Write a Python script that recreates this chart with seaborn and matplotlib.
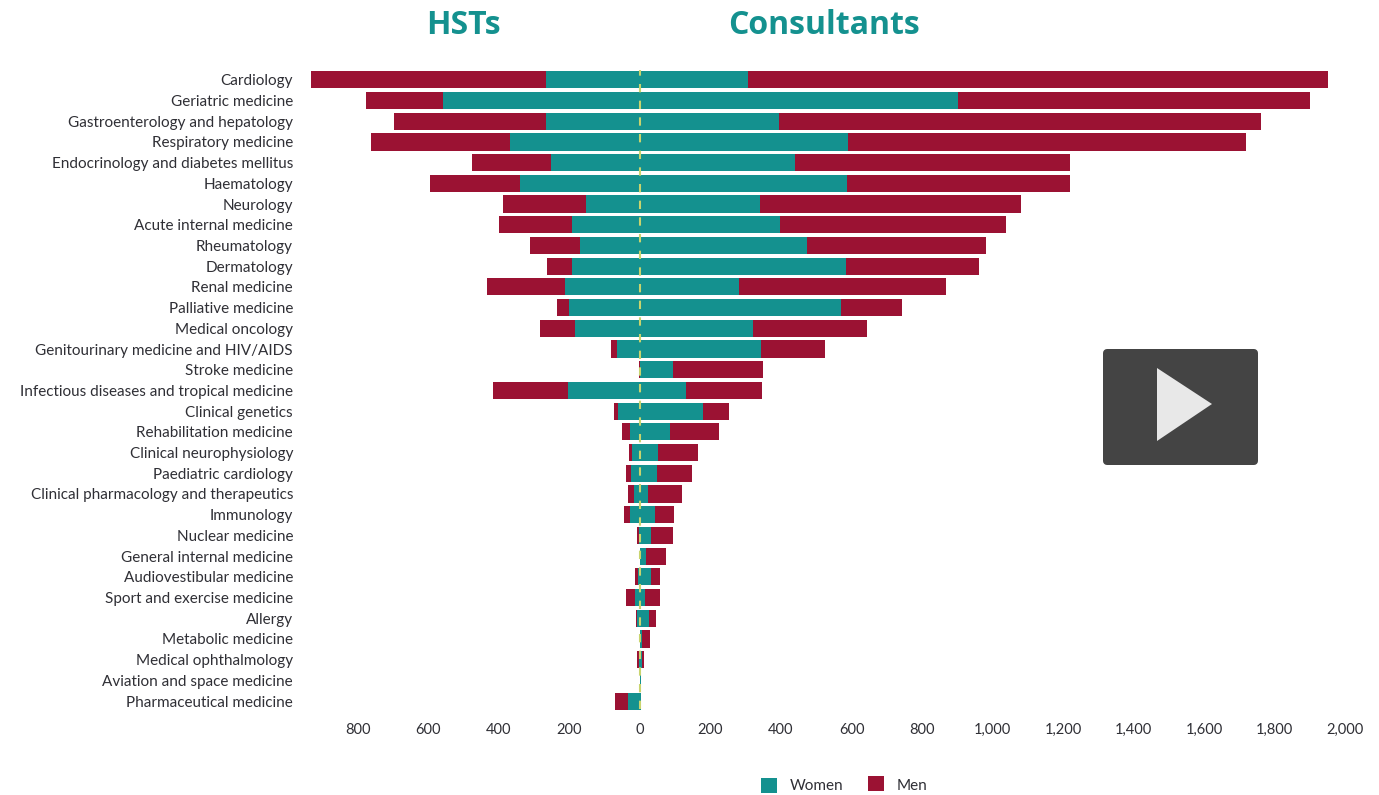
import matplotlib
matplotlib.use("Agg")
import matplotlib.pyplot as plt
from matplotlib.patches import FancyBboxPatch, Polygon
import pandas as pd
import seaborn as sns

specialties = ["Cardiology", "Geriatric medicine", "Gastroenterology and hepatology", "Respiratory medicine",
    "Endocrinology and diabetes mellitus", "Haematology", "Neurology", "Acute internal medicine", "Rheumatology",
    "Dermatology", "Renal medicine", "Palliative medicine", "Medical oncology", "Genitourinary medicine and HIV/AIDS",
    "Stroke medicine", "Infectious diseases and tropical medicine", "Clinical genetics", "Rehabilitation medicine",
    "Clinical neurophysiology", "Paediatric cardiology", "Clinical pharmacology and therapeutics", "Immunology",
    "Nuclear medicine", "General internal medicine", "Audiovestibular medicine", "Sport and exercise medicine",
    "Allergy", "Metabolic medicine", "Medical ophthalmology", "Aviation and space medicine", "Pharmaceutical medicine"]
hst_women = [267, 559, 267, 369, 252, 340, 153, 193, 170, 193, 213, 201, 184, 65, 0, 204, 62, 28, 22, 26, 17, 28, 2, 0, 6, 14, 9, 0, 3, 0, 35]
hst_men = [666, 218, 431, 394, 225, 256, 236, 207, 142, 71, 221, 34, 100, 17, 2, 213, 12, 23, 10, 15, 17, 17, 7, 0, 8, 26, 3, 0, 6, 1, 37]
con_women = [306, 902, 394, 590, 440, 587, 340, 397, 474, 584, 281, 570, 321, 343, 94, 130, 179, 85, 51, 48, 23, 43, 31, 17, 31, 14, 26, 6, 6, 2, 3]
con_men = [1646, 998, 1368, 1129, 780, 633, 741, 641, 508, 378, 587, 173, 323, 182, 255, 216, 73, 139, 113, 99, 96, 54, 62, 57, 25, 43, 20, 23, 6, 2, 0]

TEAL = "#14918f"
CRIMSON = "#9b1233"
INK = "#2f2f35"
W, H = 1379, 795
X0, PX_PER_UNIT = 640, 0.3525
ROW0, ROW_STEP = 79.8, 20.71

df = pd.DataFrame({"specialty": specialties,
    "hst_total": [-(a + b) for a, b in zip(hst_women, hst_men)],
    "hst_women": [-a for a in hst_women],
    "con_total": [a + b for a, b in zip(con_women, con_men)],
    "con_women": con_women})

sns.set_style("white")
plt.rcParams["font.family"] = ["Lato", "DejaVu Sans"]

fig = plt.figure(figsize=(W / 100, H / 100), dpi=100, facecolor="white")
L, R, T, B = 300, 1372, 60, 716
ax = fig.add_axes([L / W, 1 - B / H, (R - L) / W, (B - T) / H])
ax.set_facecolor("white")

for col, colour in [("hst_total", CRIMSON), ("con_total", CRIMSON), ("hst_women", TEAL), ("con_women", TEAL)]:
    sns.barplot(data=df, y="specialty", x=col, color=colour, saturation=1, width=0.83, ax=ax,
                orient="y", errorbar=None, edgecolor="none", linewidth=0)

ax.set_xlim((L - X0) / PX_PER_UNIT, (R - X0) / PX_PER_UNIT)
ax.set_ylim((B - ROW0) / ROW_STEP, (T - ROW0) / ROW_STEP)
ax.axvline(0, ymin=0.01, ymax=0.985, color="#c9d46e", lw=1.5, dashes=(4, 4), zorder=5)

ticks = list(range(-800, 2001, 200))
ax.set_xticks(ticks)
ax.set_xticklabels([f"{abs(t):,}" for t in ticks], fontsize=10.5, color=INK)
ax.tick_params(axis="x", length=0, pad=5)
ax.tick_params(axis="y", length=0, pad=5, labelsize=11, labelcolor=INK)
ax.set_xlabel("")
ax.set_ylabel("")
sns.despine(ax=ax, left=True, bottom=True)

ov = fig.add_axes([0, 0, 1, 1], facecolor="none")
ov.set_xlim(0, W)
ov.set_ylim(H, 0)
ov.axis("off")
ov.text(463, 26, "HSTs", color=TEAL, fontsize=23, fontweight="bold", family="Open Sans", ha="center", va="center")
ov.text(824, 26, "Consultants", color=TEAL, fontsize=23, fontweight="bold", family="Open Sans", ha="center", va="center")
ov.add_patch(FancyBboxPatch((1107, 353), 147, 108, boxstyle="round,pad=0,rounding_size=0", fc="#444444", ec="#444444",
                            lw=5.76, joinstyle="round"))
ov.add_patch(Polygon([(1157, 368), (1157, 441), (1212, 404)], closed=True, fc="#e8e8e8", ec="none"))
ov.add_patch(plt.Rectangle((761, 778), 16, 15, fc=TEAL, ec="none"))
ov.add_patch(plt.Rectangle((868, 776), 16, 15, fc=CRIMSON, ec="none"))
ov.text(790, 786, "Women", color=INK, fontsize=11, va="center")
ov.text(897, 786, "Men", color=INK, fontsize=11, va="center")

fig.savefig("out.png", dpi=100)
